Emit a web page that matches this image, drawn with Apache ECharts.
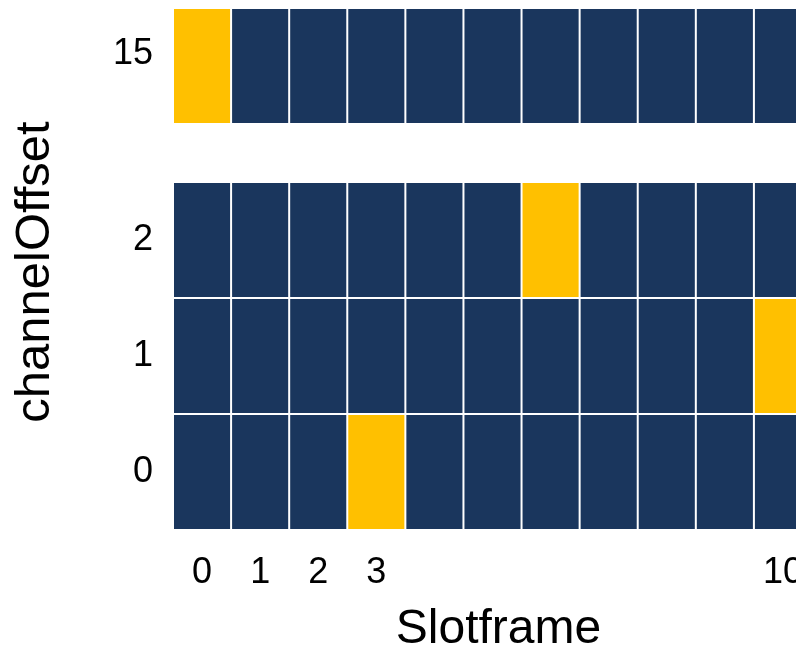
<!DOCTYPE html>
<html>
<head>
<meta charset="utf-8">
<script src="https://cdn.jsdelivr.net/npm/echarts@6/dist/echarts.min.js"></script>
<style>
  html, body { margin: 0; padding: 0; background: #ffffff; overflow: hidden; }
  #chart { width: 796px; height: 650px; }
</style>
</head>
<body>
<div id="chart"></div>
<script>
// Slotframe columns and channel offsets shown in the schedule
const slots = [0, 1, 2, 3, 4, 5, 6, 7, 8, 9, 10];
const channelOffsets = [0, 1, 2, 15];
// Scheduled (highlighted) cells as [slot, channelOffset]
const activeCells = [[0, 15], [6, 2], [10, 1], [3, 0]];
// Slot numbers labelled on the horizontal axis
const xTickLabels = [0, 1, 2, 3, 10];

// Offsets 3..14 are left out; 15 sits half a row above offset 2
function rowOf(offset) {
  return offset <= 2 ? offset : 3.5;
}

const data = [];
channelOffsets.forEach(function (ch) {
  slots.forEach(function (s) {
    const on = activeCells.some(function (c) { return c[0] === s && c[1] === ch; });
    data.push([s, rowOf(ch), on ? 1 : 0, ch]);
  });
});

const FONT = 'Liberation Sans, Arial, sans-serif';
const NAVY = '#1a365d';
const GOLD = '#ffc000';

const chart = echarts.init(document.getElementById('chart'), null, { renderer: 'canvas' });
chart.setOption({
  animation: false,
  backgroundColor: '#ffffff',
  // the last slot column runs past the right edge of the canvas
  grid: { left: 173, right: -16, top: 8, bottom: 120, outerBoundsMode: 'none', containLabel: false },
  xAxis: {
    type: 'value',
    min: -0.5,
    max: 10.5,
    name: 'Slotframe',
    nameLocation: 'middle',
    nameGap: 76,
    nameTextStyle: { fontSize: 48, color: '#000', fontFamily: FONT, padding: [0, 0, 0, 12] },
    axisLine: { show: false },
    axisTick: { show: false },
    splitLine: { show: false },
    axisLabel: {
      customValues: xTickLabels,
      fontSize: 36,
      color: '#000',
      fontFamily: FONT,
      margin: 25
    }
  },
  yAxis: {
    type: 'value',
    min: -0.5,
    max: 4,
    name: 'channelOffset',
    nameLocation: 'middle',
    nameGap: 113,
    nameTextStyle: { fontSize: 49, color: '#000', fontFamily: FONT, padding: [0, 6, 0, 0] },
    axisLine: { show: false },
    axisTick: { show: false },
    splitLine: { show: false },
    axisLabel: {
      customValues: channelOffsets.map(rowOf),
      fontSize: 36,
      color: '#000',
      fontFamily: FONT,
      margin: 20,
      formatter: function (v) {
        const idx = channelOffsets.map(rowOf).indexOf(v);
        const txt = String(channelOffsets[idx]);
        return v > 3 ? '{hi|' + txt + '}' : txt;
      },
      rich: {
        hi: { fontSize: 36, color: '#000', fontFamily: FONT, padding: [0, 0, 24, 0] }
      }
    }
  },
  series: [{
    type: 'custom',
    clip: false,
    data: data,
    encode: { x: 0, y: 1 },
    renderItem: function (params, api) {
      const tl = api.coord([api.value(0) - 0.5, api.value(1) + 0.5]);
      const size = api.size([1, 1]);
      return {
        type: 'rect',
        shape: { x: tl[0] + 1, y: tl[1] + 1, width: size[0] - 2, height: size[1] - 2 },
        style: { fill: api.value(2) ? GOLD : NAVY }
      };
    }
  }]
});
</script>
</body>
</html>
